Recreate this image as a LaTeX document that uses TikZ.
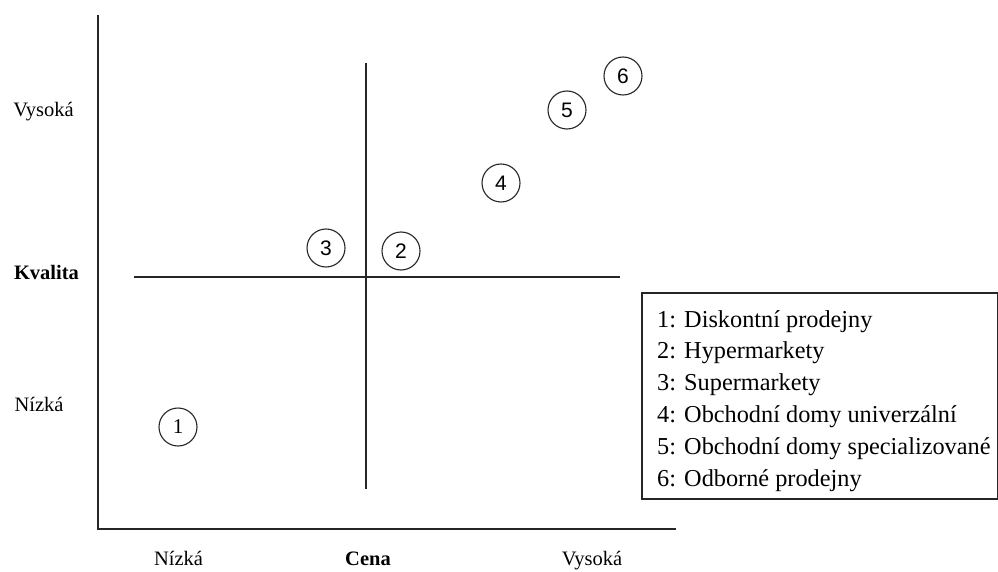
\documentclass[tikz,border=0pt]{standalone}
\usepackage{fontspec}
\setmainfont{Liberation Serif}
\newfontfamily\numfont{Liberation Sans}
\begin{document}
\begin{tikzpicture}[x=1pt,y=-1pt,
  axisline/.style={line width=1.8pt,draw=black!85},
  divline/.style={line width=1.5pt,draw=black!85},
  marker/.style={circle,draw=black!85,line width=1.1pt,minimum size=38pt,inner sep=0pt,font=\numfont\fontsize{21}{21}\selectfont},
  axlabel/.style={inner sep=0pt,font=\fontsize{20.5}{22}\selectfont},
  axtitle/.style={inner sep=0pt,font=\bfseries\fontsize{20.5}{22}\selectfont},
  legendline/.style={inner sep=0pt,anchor=base west,font=\rmfamily\fontsize{24.3}{30}\selectfont},
  legendbox/.style={draw=black!85,line width=1.5pt,inner sep=0pt,anchor=north west}
]
\useasboundingbox[fill=white] (0,0) rectangle (998,572);
% axes
\coordinate (ytop) at (98,15);
\coordinate (orig) at (98,529);
\coordinate (xend) at (676,529);
\draw[axisline] (ytop) -- (orig) -- (xend);
% dividers
\coordinate (vtop) at (366,63);
\coordinate (vbot) at (366,489);
\coordinate (hl) at (134,277);
\coordinate (hr) at (620,277);
\draw[divline] (vtop) -- (vbot);
\draw[divline] (hl) -- (hr);
% markers
\node[marker,font=\rmfamily\fontsize{21}{21}\selectfont] (m1) at (178,427) {1};
\node[marker] (m2) at (401,251) {2};
\node[marker] (m3) at (326,248) {3};
\node[marker] (m4) at (501,183) {4};
\node[marker] (m5) at (567,110) {5};
\node[marker] (m6) at (623,76) {6};
% axis labels
\node[axlabel] (qhigh) at (43.5,112) {Vysoká};
\node[axtitle] (qtitle) at (46.5,272) {Kvalita};
\node[axlabel] (qlow) at (39,404) {Nízká};
\node[axlabel] (plow) at (178.5,558) {Nízká};
\node[axtitle] (ptitle) at (368,559) {Cena};
\node[axlabel] (phigh) at (592,561) {Vysoká};
% legend
\node[legendbox,minimum width=356pt,minimum height=206pt] (legend) at (641,292) {};
\node[legendline] (l1) at (657,327) {1: Diskontní prodejny};
\node[legendline] (l2) at (657,358.8) {2: Hypermarkety};
\node[legendline] (l3) at (657,390.6) {3: Supermarkety};
\node[legendline] (l4) at (657,422.4) {4: Obchodní domy univerzální};
\node[legendline] (l5) at (657,454.2) {5: Obchodní domy specializované};
\node[legendline] (l6) at (657,486) {6: Odborné prodejny};
\end{tikzpicture}
\end{document}
